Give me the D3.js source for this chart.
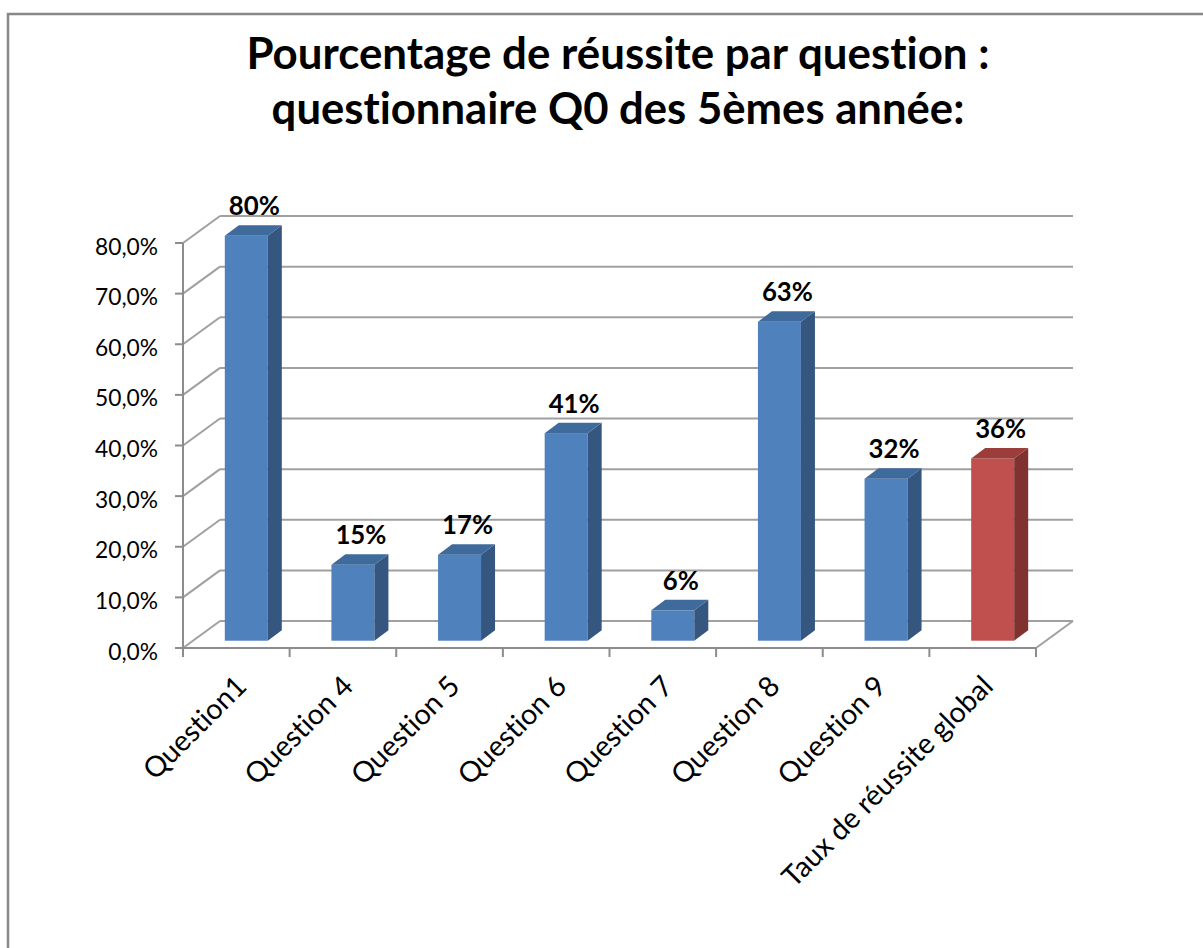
<!DOCTYPE html>
<html><head><meta charset="utf-8">
<script src="https://cdn.jsdelivr.net/npm/d3@7"></script>
<style>html,body{margin:0;padding:0;background:#fff;}svg{display:block;}text{font-variant-ligatures:none;font-feature-settings:"liga" 0;}</style>
</head><body>
<script>
const categories = ["Question1","Question 4","Question 5","Question 6","Question 7","Question 8","Question 9","Taux de réussite global"];
const values = [0.80, 0.15, 0.17, 0.41, 0.06, 0.63, 0.32, 0.36];
const highlight = [false,false,false,false,false,false,false,true];
const yTicks = [0,0.1,0.2,0.3,0.4,0.5,0.6,0.7,0.8];
const titleLines = ["Pourcentage de réussite par question :","questionnaire Q0 des 5èmes année:"];

const W = 1203, H = 948;
const FONT = "Lato, 'Open Sans', sans-serif";
const svg = d3.select("body").append("svg").attr("width", W).attr("height", H);

// geometry
const x0 = 183, x1 = 1036, yBase = 648, yTop = 243;
const DX = 37, DY = -27;           // depth of the plot box
const f0 = 0.27;                   // bar front depth fraction
const bdx = 14, bdy = -10.5;       // bar depth
const barW = 43;

const x = d3.scaleBand().domain(categories).range([x0, x1]).padding(0);
const y = d3.scaleLinear().domain([0, 0.8]).range([yBase, yTop]);
const fr = d3.formatLocale({decimal: ",", thousands: " ", grouping: [3], currency: ["", "€"], percent: "%"});
const tickFmt = fr.format(".1%");
const lblFmt = fr.format(".0%");

// border
svg.append("path").attr("d", `M8,${H} V14 H${W}`).attr("fill", "none").attr("stroke", "#888").attr("stroke-width", 2.5);

// fit helper: returns font size so that text width == target
function fitSize(parent, str, target, weight) {
  const s = parent.append("text").attr("font-family", FONT).attr("font-weight", weight || 400)
    .attr("font-size", 40).text(str);
  const w = s.node().getComputedTextLength();
  s.remove();
  return 40 * target / w;
}

// title
const tTargets = [743, 693], tBase = [69, 124];
titleLines.forEach((t, i) => {
  const fs = fitSize(svg, t, tTargets[i], 700);
  svg.append("text").attr("x", 618).attr("y", tBase[i]).attr("text-anchor", "middle")
    .attr("font-family", FONT).attr("font-weight", 700).attr("font-size", fs).attr("fill", "#000").text(t);
});

const grid = svg.append("g").attr("stroke", "#a0a0a0").attr("stroke-width", 2).attr("fill", "none");
// back wall gridlines
grid.selectAll("line.h").data(yTicks).join("line").attr("class", "h")
  .attr("x1", x0 + DX).attr("x2", x1 + DX).attr("y1", d => y(d) + DY).attr("y2", d => y(d) + DY);
// left wall diagonals
grid.selectAll("line.d").data(yTicks).join("line").attr("class", "d")
  .attr("x1", x0).attr("x2", x0 + DX).attr("y1", d => y(d)).attr("y2", d => y(d) + DY);
// floor right edge
grid.append("line").attr("x1", x1).attr("y1", y(0)).attr("x2", x1 + DX).attr("y2", y(0) + DY);

// axes (front)
const ax = svg.append("g").attr("stroke", "#8c8c8c").attr("stroke-width", 2).attr("fill", "none");
ax.append("line").attr("x1", x0).attr("x2", x0).attr("y1", y(0) + 1).attr("y2", y(0.8));
ax.append("line").attr("x1", x0).attr("x2", x1).attr("y1", y(0)).attr("y2", y(0));
ax.selectAll("line.yt").data(yTicks).join("line").attr("class", "yt")
  .attr("x1", x0 - 8).attr("x2", x0).attr("y1", d => y(d)).attr("y2", d => y(d));
const xtv = categories.map(c => x(c)).concat([x1]);
ax.selectAll("line.xt").data(xtv).join("line").attr("class", "xt")
  .attr("x1", d => d).attr("x2", d => d).attr("y1", y(0)).attr("y2", y(0) + 9);

// y tick labels
const yfs = fitSize(svg, tickFmt(0.8), 63, 400);
svg.append("g").attr("font-family", FONT).attr("font-size", yfs).attr("fill", "#000").attr("text-anchor", "end")
  .selectAll("text").data(yTicks).join("text")
  .attr("x", 158).attr("y", d => y(d) + 3).attr("dominant-baseline", "central").text(d => tickFmt(d));

// bars
const colors = {
  blue: {front: "#4f81bd", side: "#34567f", top: "#3f6a9c"},
  red: {front: "#c0504d", side: "#7f3230", top: "#9a3d3b"}
};
const barData = categories.map((c, i) => ({c, v: values[i], hl: highlight[i]}));
const bars = svg.append("g").selectAll("g").data(barData).join("g");
function geo(d) {
  const cx = x(d.c) + x.bandwidth() / 2 + f0 * DX;
  const L = cx - barW / 2, R = cx + barW / 2;
  const B = y(0) + f0 * DY, T = y(d.v) + f0 * DY;
  return {L, R, B, T, cx};
}
bars.append("rect").attr("x", d => geo(d).L).attr("y", d => geo(d).T).attr("width", barW)
  .attr("height", d => geo(d).B - geo(d).T).attr("fill", d => (d.hl ? colors.red : colors.blue).front);
bars.append("path").attr("d", d => { const g = geo(d);
  return `M${g.R},${g.T} L${g.R + bdx},${g.T + bdy} L${g.R + bdx},${g.B + bdy} L${g.R},${g.B} Z`; })
  .attr("fill", d => (d.hl ? colors.red : colors.blue).side);
bars.append("path").attr("d", d => { const g = geo(d);
  return `M${g.L},${g.T} L${g.L + bdx},${g.T + bdy} L${g.R + bdx},${g.T + bdy} L${g.R},${g.T} Z`; })
  .attr("fill", d => (d.hl ? colors.red : colors.blue).top);

// data labels
const dfs = fitSize(svg, lblFmt(0.8), 51, 700);
svg.append("g").attr("font-family", FONT).attr("font-weight", 700).attr("font-size", dfs).attr("text-anchor", "middle").attr("fill", "#000")
  .selectAll("text").data(barData).join("text")
  .attr("x", d => geo(d).cx + 8).attr("y", d => geo(d).T + bdy - 10).text(d => lblFmt(d.v));

// category labels
const cfs = fitSize(svg, categories[7], 284, 400);
svg.append("g").attr("font-family", FONT).attr("font-size", cfs).attr("fill", "#000").attr("text-anchor", "end")
  .selectAll("text").data(categories).join("text")
  .attr("transform", d => `translate(${x(d) + x.bandwidth() / 2 + 12},${688}) rotate(-45)`).text(d => d);
</script>
</body></html>
